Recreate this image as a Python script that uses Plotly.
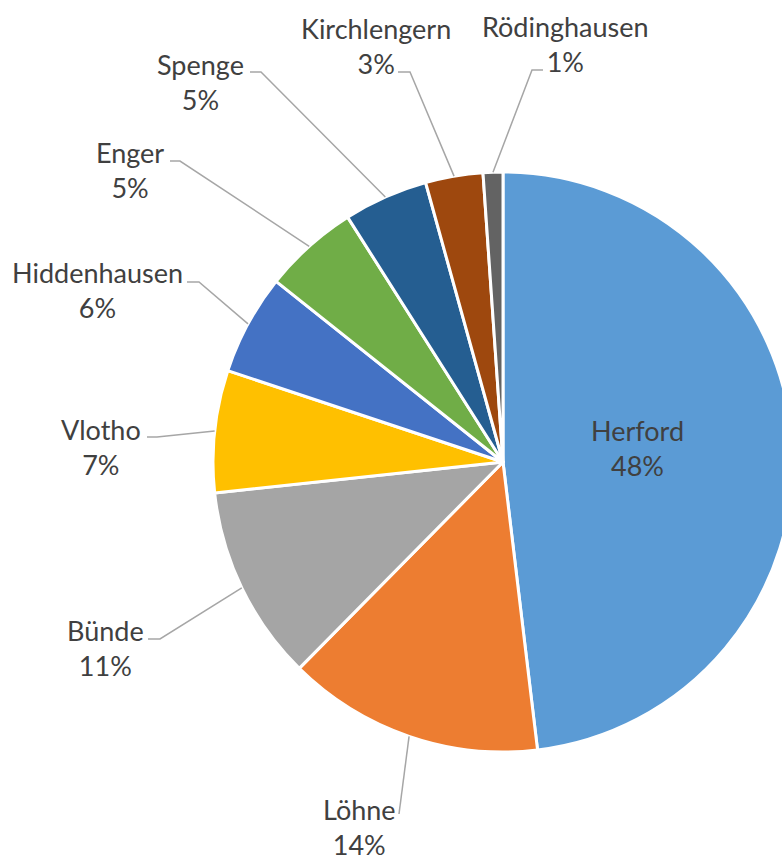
import math
import plotly.graph_objects as go

# ---- data ----
names = ["Herford", "Löhne", "Bünde", "Vlotho", "Hiddenhausen",
         "Enger", "Spenge", "Kirchlengern", "Rödinghausen"]
shares = [48.1, 14.3, 10.9, 6.8, 5.6, 5.3, 4.7, 3.2, 1.1]
colors = ["#5B9BD5", "#ED7D31", "#A5A5A5", "#FFC000", "#4472C4",
          "#70AD47", "#255E91", "#9E480E", "#636363"]

# ---- layout (pixels) ----
W, H = 800, 859
CX, CY, R = 503, 462, 290
TEXT = "#404040"
LINE = "#A6A6A6"
FONT = "Lato"
FS = 27

# label block centres (px)
label_xy = {
    "Herford": (637, 448),
    "Löhne": (359, 827),
    "Bünde": (105, 648),
    "Vlotho": (101, 447),
    "Hiddenhausen": (97, 290),
    "Enger": (130, 170),
    "Spenge": (201, 82),
    "Kirchlengern": (376, 46),
    "Rödinghausen": (565, 44),
}
# leader line: stub start and elbow (px); anchor on slice computed from data
leader = {
    "Löhne": [(399, 814)],
    "Bünde": [(148, 639), (160, 639)],
    "Vlotho": [(147, 437), (157, 437)],
    "Hiddenhausen": [(187, 282), (199, 282)],
    "Enger": [(170, 161), (180, 161)],
    "Spenge": [(250, 72), (261, 72)],
    "Kirchlengern": [(398, 72), (410, 72)],
    "Rödinghausen": [(543, 70), (532, 70)],
}

def px(x):
    return x / W

def py(y):
    return 1 - y / H

fig = go.Figure(go.Pie(
    labels=names, values=shares, sort=False, direction="clockwise",
    rotation=0, textinfo="none", hoverinfo="label+percent",
    marker=dict(colors=colors, line=dict(color="white", width=3)),
    domain=dict(x=[px(CX - R), px(CX + R)], y=[py(CY + R), py(CY - R)]),
    showlegend=False,
))

total = sum(shares)
cum = 0.0
shapes = []
annotations = []
for name, v in zip(names, shares):
    mid = (cum + v / 2) / total * 2 * math.pi
    cum += v
    ax = CX + R * math.sin(mid)
    ay = CY - R * math.cos(mid)
    lx, ly = label_xy[name]
    annotations.append(dict(
        x=px(lx), y=py(ly), xref="paper", yref="paper",
        xanchor="center", yanchor="middle", showarrow=False,
        text=f"{name}<br>{round(v / total * 100)}%", align="center",
        font=dict(family=FONT, size=FS, color=TEXT),
    ))
    if name in leader:
        pts = leader[name] + [(ax, ay)]
        path = "M " + " L ".join(f"{px(x):.5f},{py(y):.5f}" for x, y in pts)
        shapes.append(dict(type="path", path=path, xref="paper", yref="paper",
                           line=dict(color=LINE, width=1.5)))

fig.update_layout(
    width=W, height=H, margin=dict(l=0, r=0, t=0, b=0),
    paper_bgcolor="white", plot_bgcolor="white",
    shapes=shapes, annotations=annotations,
)

fig.write_html("out.html", post_script=(
    "document.body.style.margin='0';"
    "document.body.style.overflow='hidden';"
    "document.documentElement.style.overflow='hidden';"
))
